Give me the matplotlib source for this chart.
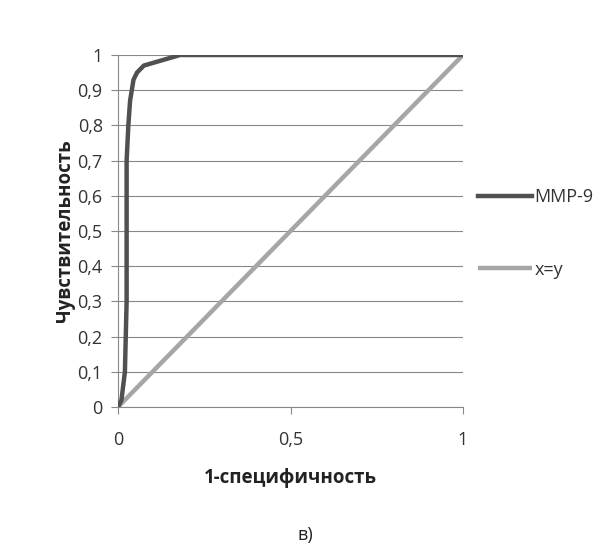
import matplotlib
matplotlib.use('Agg')
import matplotlib.pyplot as plt
from matplotlib.ticker import FuncFormatter

plt.rcParams['font.family'] = ['Open Sans', 'DejaVu Sans']

# ROC-Kurve MMP-9
fpr = [0.0, 0.01, 0.02, 0.025, 0.025, 0.03, 0.035, 0.045, 0.055, 0.075, 0.18, 1.0]
tpr = [0.0, 0.02, 0.1, 0.3, 0.7, 0.8, 0.87, 0.93, 0.95, 0.97, 1.0, 1.0]
# Diagonale
diag = [0.0, 1.0]

fig = plt.figure(figsize=(6.11, 5.57), dpi=100)
ax = fig.add_axes([118/611, 1-407/557, 345/611, 352/557])

ax.plot(diag, diag, color='#a6a6a6', lw=3.2, label='x=y', zorder=3, solid_capstyle='butt')
ax.plot(fpr, tpr, color='#505050', lw=3.2, label='MMP-9', zorder=4, solid_joinstyle='round')

ax.set_xlim(0, 1)
ax.set_ylim(0, 1)
ax.set_xticks([0, 0.5, 1])
ax.set_yticks([i/10 for i in range(11)])
fmt = FuncFormatter(lambda v, p: ('%g' % round(v, 2)).replace('.', ','))
ax.xaxis.set_major_formatter(fmt)
ax.yaxis.set_major_formatter(fmt)
ax.grid(axis='y', color='#888888', lw=0.8)
ax.set_axisbelow(True)
for s in ['top', 'right']:
    ax.spines[s].set_visible(False)
for s in ['left', 'bottom']:
    ax.spines[s].set_color('#888888')
    ax.spines[s].set_linewidth(0.8)
ax.tick_params(direction='out', length=5, color='#888888', labelsize=13, labelcolor='#333333')
ax.tick_params(axis='x', pad=12)
ax.tick_params(axis='y', pad=6)

ax.set_xlabel('1-специфичность', fontsize=13.5, fontweight='bold', color='#222222', labelpad=14)
ax.set_ylabel('Чувствительность', fontsize=13.5, fontweight='bold', color='#222222', labelpad=2)

h, l = ax.get_legend_handles_labels()
ax.legend(h[::-1], l[::-1], loc='center left', bbox_to_anchor=(0.995, 0.493), frameon=False,
          fontsize=13, handlelength=3.0, handletextpad=0.15, labelspacing=3.0,
          labelcolor='#333333')

fig.text(305/611, 1-535/557, 'в)', ha='center', va='center', fontsize=13, color='#222222')

fig.savefig('out.png', dpi=100)
